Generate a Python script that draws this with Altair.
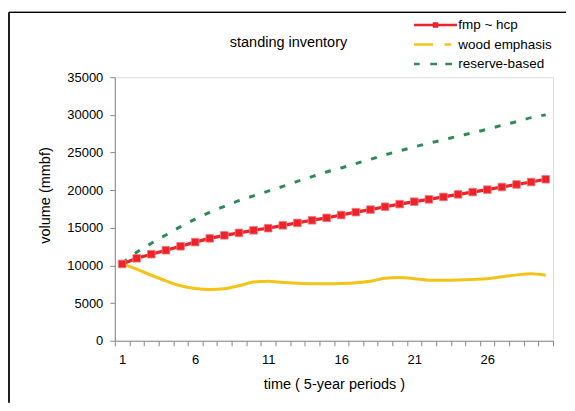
import altair as alt
import pandas as pd

# ---- data ----
periods = list(range(1, 31))
fmp_hcp = [10200, 10950, 11500, 12020, 12550, 13100, 13600, 14000, 14330, 14670,
           14950, 15330, 15650, 16000, 16320, 16700, 17080, 17420, 17800, 18150,
           18470, 18780, 19100, 19440, 19750, 20070, 20420, 20760, 21080, 21450]
wood_emphasis = [10250, 9500, 8700, 7950, 7300, 6950, 6800, 6900, 7300, 7800,
                 7900, 7750, 7650, 7580, 7560, 7600, 7700, 7900, 8300, 8400,
                 8250, 8050, 8050, 8080, 8150, 8250, 8500, 8750, 8900, 8700]
reserve_based = [10300, 11750, 12950, 14050, 15150, 16150, 17050, 17850, 18600, 19250,
                 19870, 20500, 21170, 21800, 22420, 22950, 23530, 24100, 24680, 25220,
                 25750, 26240, 26690, 27170, 27620, 28100, 28620, 29100, 29630, 30000]
series_names = ["fmp ~ hcp", "wood emphasis", "reserve-based"]
y_ticks = [0, 5000, 10000, 15000, 20000, 25000, 30000, 35000]

RED = "#ee2229"
YELLOW = "#f5c316"
GREEN = "#2e8b57"
FONT = "Liberation Sans"

df = pd.DataFrame({"period": periods, "fmp": fmp_hcp,
                   "wood": wood_emphasis, "reserve": reserve_based})
legend_df = pd.DataFrame({"series": series_names})

W, H = 439, 264

x_enc = alt.X(
    "period:O",
    sort="ascending",
    scale=alt.Scale(type="band", paddingInner=0, paddingOuter=0),
    axis=alt.Axis(
        title="time ( 5-year periods )",
        labelAngle=0,
        tickBand="extent",
        labelExpr="(toNumber(datum.value) - 1) % 5 === 0 ? datum.label : ''",
        labelOverlap=False,
        tickSize=5,
        labelPadding=8,
        titlePadding=11,
        labelFontSize=13,
        titleFontSize=14.5,
        titleFontWeight="normal",
        grid=False,
    ),
)

y_scale = alt.Scale(domain=[0, 35000], nice=False, zero=True)
y_axis = alt.Axis(
    title="volume (mmbf)",
    values=y_ticks,
    format="d",
    tickSize=5,
    labelPadding=7,
    titlePadding=14,
    titleY=118,
    labelFontSize=13,
    titleFontSize=14.5,
    titleFontWeight="normal",
    grid=False,
)

base = alt.Chart(df)

yellow_line = base.mark_line(color=YELLOW, strokeWidth=3, interpolate="monotone").encode(
    x=x_enc, y=alt.Y("wood:Q", scale=y_scale, axis=y_axis)
)
green_line = base.mark_line(color=GREEN, strokeWidth=3, strokeDash=[6, 10],
                            interpolate="monotone").encode(
    x=x_enc, y=alt.Y("reserve:Q", scale=y_scale, axis=y_axis)
)
red_line = base.mark_line(color=RED, strokeWidth=3.2).encode(
    x=x_enc, y=alt.Y("fmp:Q", scale=y_scale, axis=y_axis)
)
red_pts = base.mark_square(color=RED, size=58, opacity=1, stroke="#f47a80",
                           strokeWidth=0.8).encode(
    x=x_enc, y=alt.Y("fmp:Q", scale=y_scale, axis=y_axis)
)

# legend symbols: line + square, long/short dash, short dashes
sym_paths = [
    "M-4.3,0H4.3M-0.3,-0.3H0.3V0.3H-0.3Z",
    "M-4.3,0H-0.5M1.82,0H3.16",
    "M-4.3,0H-3.18M-1.04,0H0.3M1.96,0H3.3",
]
leg = dict(
    title=None, orient="none", legendX=314.5, legendY=-59, padding=0,
    symbolSize=100, symbolStrokeWidth=2.5, symbolOpacity=1,
    labelFontSize=13.5, labelOffset=16, rowPadding=4.5,
    labelFont=FONT, labelColor="black",
)
legend_layer = alt.Chart(legend_df).mark_point(
    filled=False, fill=RED, size=100, strokeWidth=2.5
).encode(
    color=alt.Color("series:N", scale=alt.Scale(domain=series_names,
                                                range=[RED, YELLOW, GREEN]),
                    legend=alt.Legend(**leg)),
    shape=alt.Shape("series:N", scale=alt.Scale(domain=series_names, range=sym_paths),
                    legend=alt.Legend(**leg)),
).transform_filter("false")

frame_left = alt.Chart(legend_df).mark_rule(color="black", strokeWidth=1).encode(
    x=alt.value(-106), y=alt.value(-65), y2=alt.value(326)
)
frame_top = alt.Chart(legend_df).mark_rule(color="black", strokeWidth=1).encode(
    x=alt.value(-106), x2=alt.value(452), y=alt.value(-65)
)

chart = alt.layer(
    frame_left, frame_top, yellow_line, green_line, red_line, red_pts, legend_layer
).properties(
    width=W,
    height=H,
    padding={"left": 0, "top": 3, "right": 0, "bottom": 0},
    title=alt.TitleParams(
        "standing inventory", fontSize=14.5, font=FONT, fontWeight="normal",
        anchor="middle", dx=-45.5, dy=39, offset=0, color="black",
    ),
).configure_view(
    strokeWidth=0
).configure_axis(
    labelFont=FONT, titleFont=FONT, labelColor="black", titleColor="black",
    titleFontWeight="normal", domainColor="black", tickColor="black",
    domainWidth=1, tickWidth=1,
).configure(background="white")

chart.save("out.html", embed_options={"renderer": "svg", "actions": False})
